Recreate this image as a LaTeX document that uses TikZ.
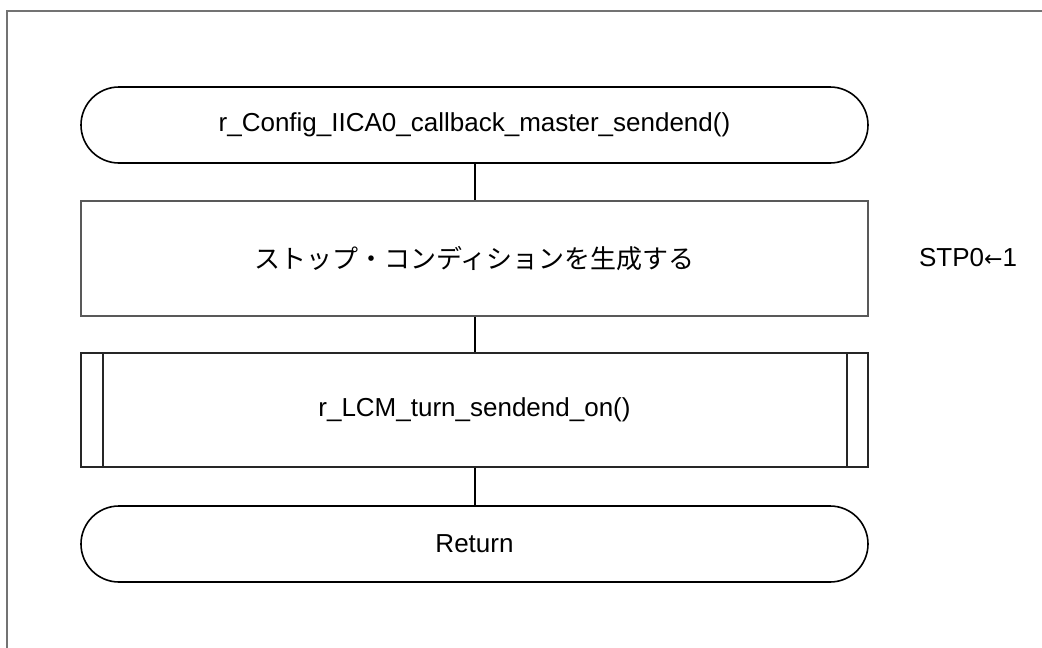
\documentclass[tikz,border=0pt]{standalone}
\usepackage{fontspec}
\setmainfont{Liberation Sans}
\newfontfamily\jpfont{Noto Sans CJK JP}
\newfontfamily\symfont{DejaVu Sans}
\begin{document}
\begin{tikzpicture}[x=1pt,y=-1pt,
  term/.style={draw=black, line width=1.6pt, rounded corners=38pt, minimum width=787pt, minimum height=76pt, inner sep=0pt, font=\fontsize{26}{30}\selectfont},
  procbox/.style={draw=black!65, line width=1.4pt, minimum width=787pt, minimum height=115pt, inner sep=0pt},
  subbox/.style={draw=black!85, line width=1.6pt, minimum width=787pt, minimum height=114pt, inner sep=0pt, font=\fontsize{26}{30}\selectfont},
  conn/.style={draw=black, line width=2pt},
  note/.style={font=\fontsize{26}{30}\selectfont, inner sep=0pt}]
\useasboundingbox (0,0) rectangle (1042,648);
\draw[black!55, line width=1.2pt] (1042,11) -- (7,11) -- (7,648);
\node[term] (start) at (474.5,125) {r\_Config\_IICA0\_callback\_master\_sendend()};
\node[procbox] (stop) at (474.5,258.5) {\jpfont\fontsize{26}{30}\selectfont ストップ・コンディションを生成する};
\node[subbox] (lcm) at (474.5,410) {r\_LCM\_turn\_sendend\_on()};
\draw[black!85, line width=1.6pt] ([xshift=23pt]lcm.north west) -- ([xshift=23pt]lcm.south west);
\draw[black!85, line width=1.6pt] ([xshift=-22pt]lcm.north east) -- ([xshift=-22pt]lcm.south east);
\node[term] (ret) at (474.5,544) {Return};
\node[note] (stp) at (968,258) {STP0{\symfont\fontsize{22}{26}\selectfont ←}1};
\draw[conn] (start.south) -- (stop.north);
\draw[conn] (stop.south) -- (lcm.north);
\draw[conn] (lcm.south) -- (ret.north);
\end{tikzpicture}
\end{document}
